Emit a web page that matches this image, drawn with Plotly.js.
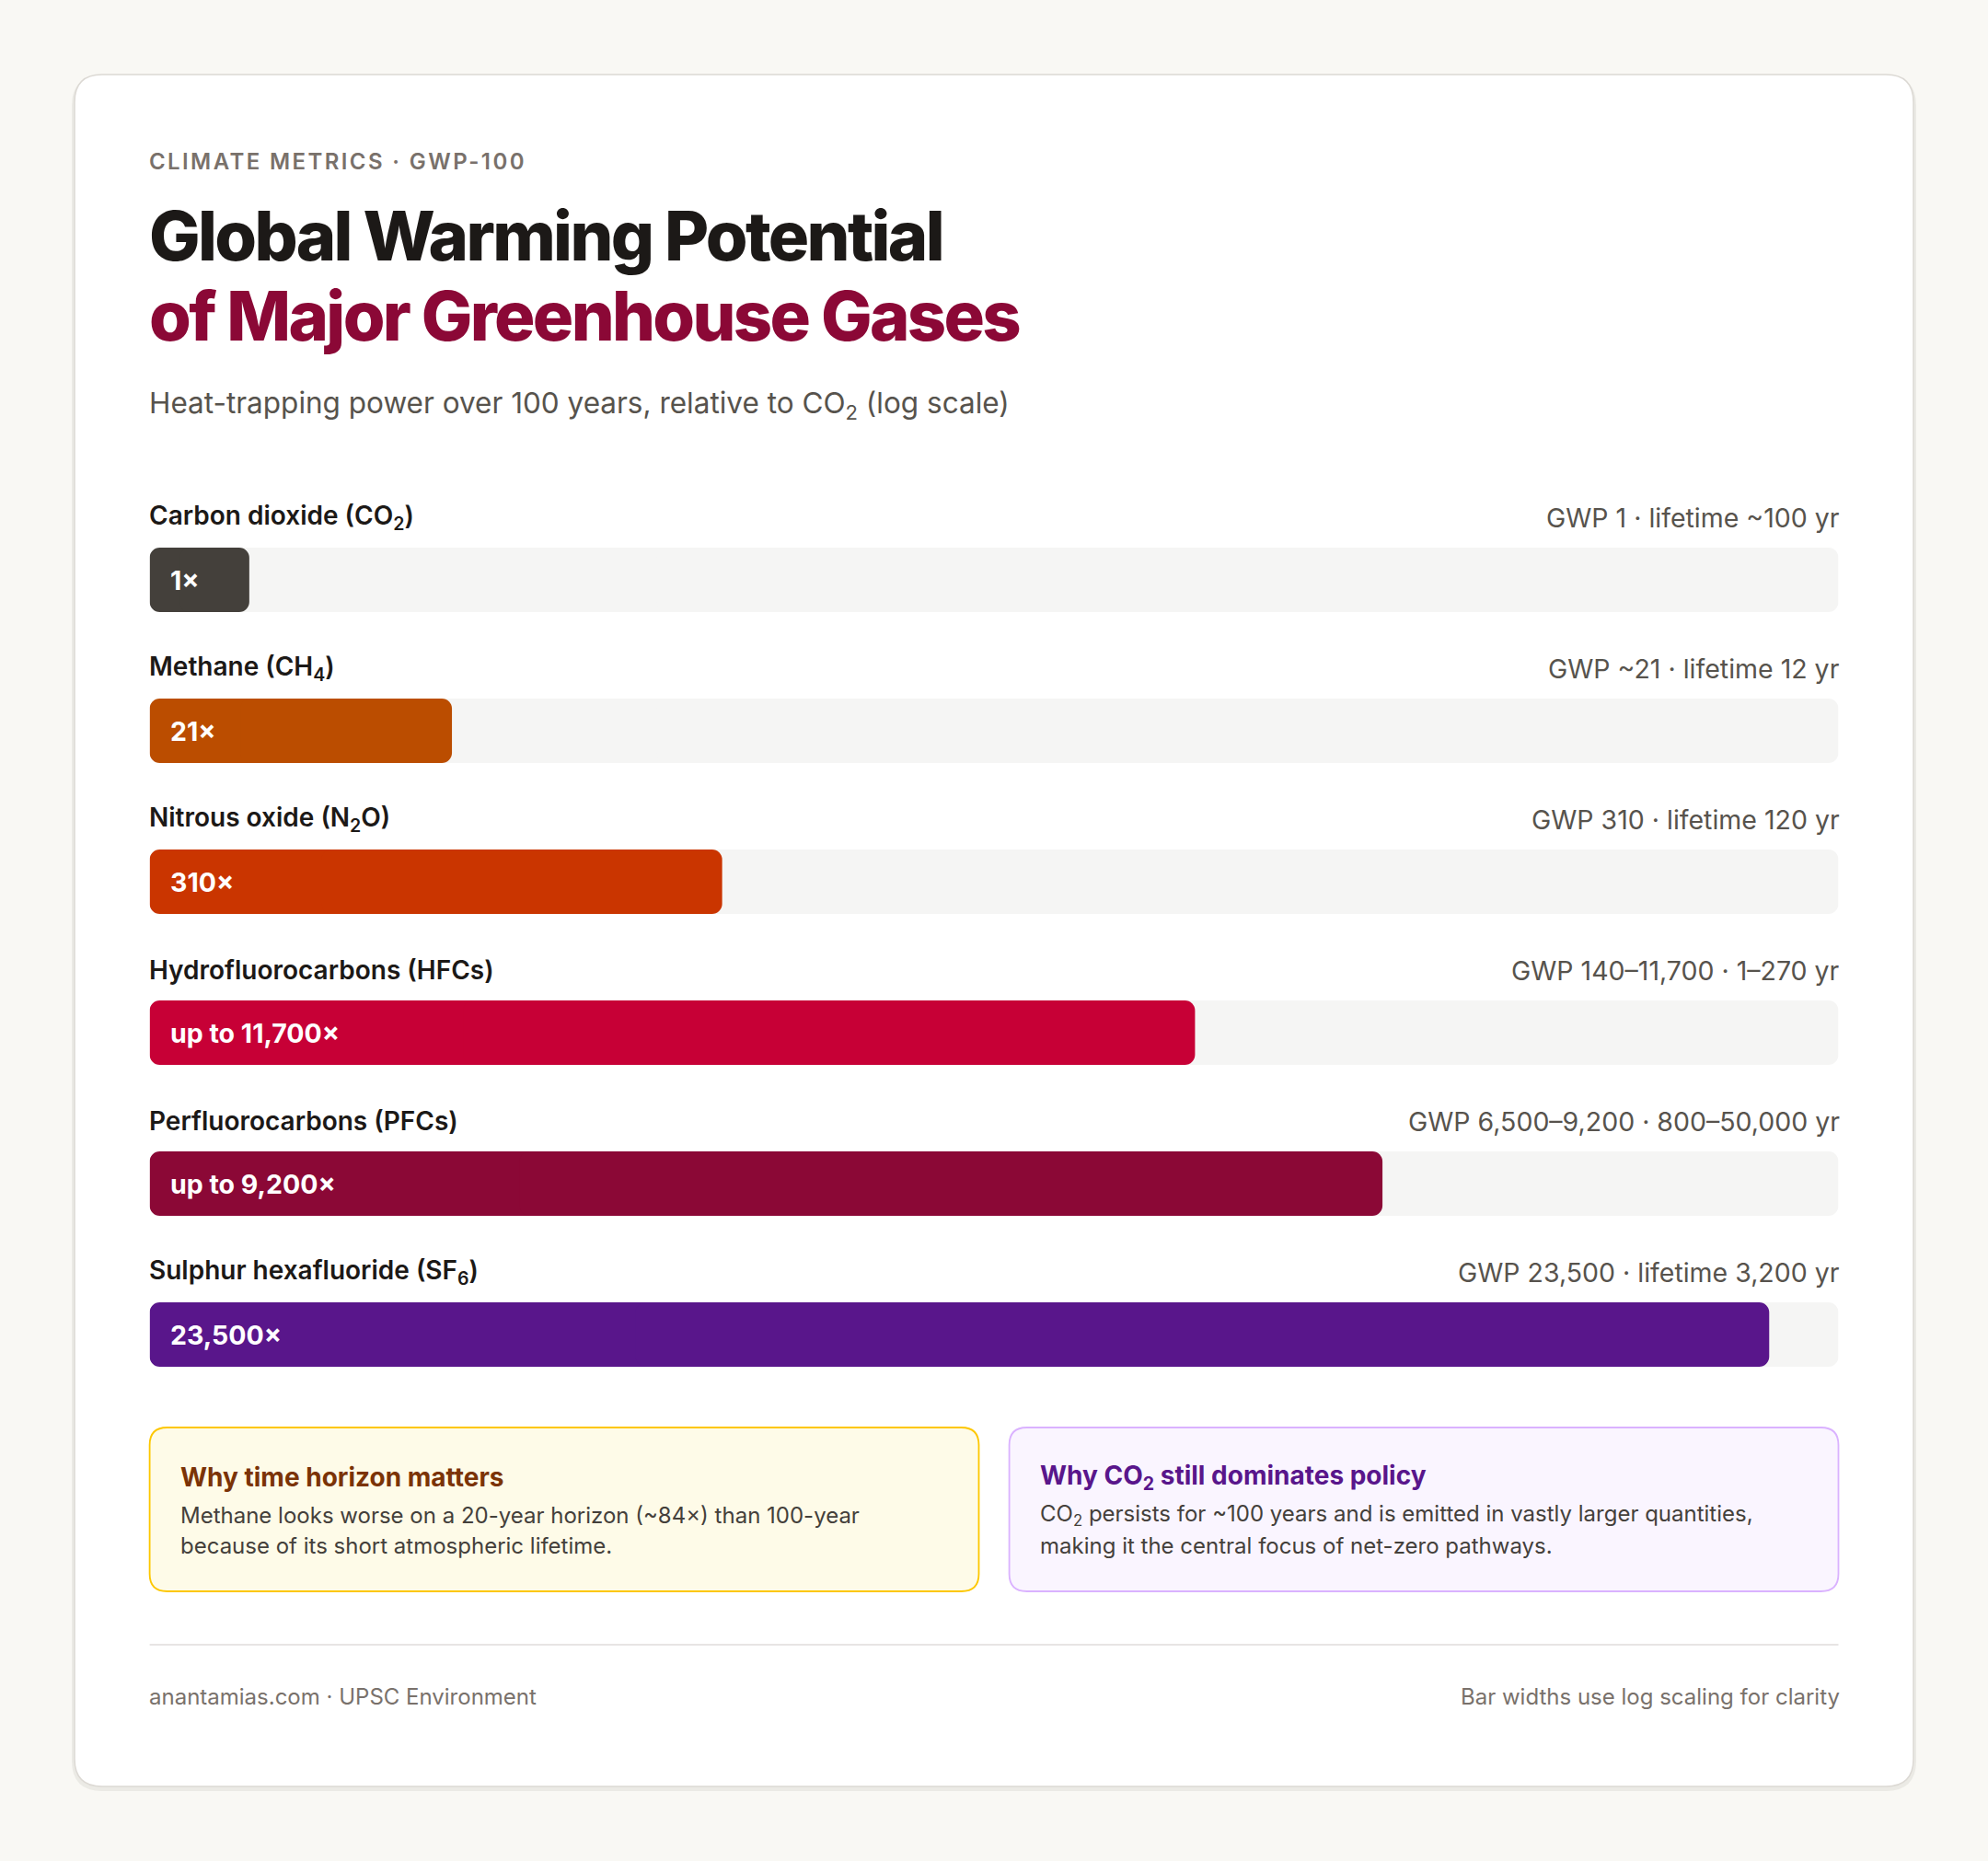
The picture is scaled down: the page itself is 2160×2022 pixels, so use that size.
<!DOCTYPE html>
<html>
<head>
<meta charset="utf-8">
<script src="https://cdn.plot.ly/plotly-3.0.1.min.js"></script>
<style>
  html, body { margin: 0; padding: 0; background: #f9f8f4; }
  #chart { width: 2160px; height: 2022px; }
</style>
</head>
<body>
<div id="chart"></div>
<script>
// chart data
const gasKeys = ['CO2', 'CH4', 'N2O', 'HFCs', 'PFCs', 'SF6'];
const gasNames = [
    'Carbon dioxide (CO<sub>2</sub>)',
    'Methane (CH<sub>4</sub>)',
    'Nitrous oxide (N<sub>2</sub>O)',
    'Hydrofluorocarbons (HFCs)',
    'Perfluorocarbons (PFCs)',
    'Sulphur hexafluoride (SF<sub>6</sub>)'
];
// bar length as % of the track (log-scaled widths as drawn)
const barPct = [5.9, 17.9, 33.9, 61.9, 73.0, 95.9];
const barText = ['1×', '21×', '310×', 'up to 11,700×', 'up to 9,200×', '23,500×'];
const gwpNotes = [
    'GWP 1 · lifetime ~100 yr',
    'GWP ~21 · lifetime 12 yr',
    'GWP 310 · lifetime 120 yr',
    'GWP 140–11,700 · 1–270 yr',
    'GWP 6,500–9,200 · 800–50,000 yr',
    'GWP 23,500 · lifetime 3,200 yr'
];
const barColors = ['#44403b', '#bb4d00', '#ca3500', '#c70036', '#8b0836', '#59168b'];
const trackMax = 100;

const noteTitles = ['Why time horizon matters', 'Why CO<sub>2</sub> still dominates policy'];
const noteLines = [
    ['Methane looks worse on a 20-year horizon (~84×) than 100-year', 'because of its short atmospheric lifetime.'],
    ['CO<sub>2</sub> persists for ~100 years and is emitted in vastly larger quantities,', 'making it the central focus of net-zero pathways.']
];

// page geometry (px)
const W = 2160, H = 2022;
const FONT = 'Inter, "Noto Sans", sans-serif';
const left = 162.6, right = 1997.5;

const px = x => x / W;
const py = y => 1 - y / H;

function roundRect(x0, y0, x1, y1, r) {
    return 'M' + px(x0 + r) + ',' + py(y0) +
        ' L' + px(x1 - r) + ',' + py(y0) +
        ' Q' + px(x1) + ',' + py(y0) + ' ' + px(x1) + ',' + py(y0 + r) +
        ' L' + px(x1) + ',' + py(y1 - r) +
        ' Q' + px(x1) + ',' + py(y1) + ' ' + px(x1 - r) + ',' + py(y1) +
        ' L' + px(x0 + r) + ',' + py(y1) +
        ' Q' + px(x0) + ',' + py(y1) + ' ' + px(x0) + ',' + py(y1 - r) +
        ' L' + px(x0) + ',' + py(y0 + r) +
        ' Q' + px(x0) + ',' + py(y0) + ' ' + px(x0 + r) + ',' + py(y0) + ' Z';
}

function paperShape(path, fill, line, width) {
    return {
        type: 'path', xref: 'paper', yref: 'paper', layer: 'below',
        path: path, fillcolor: fill,
        line: { color: line || 'rgba(0,0,0,0)', width: width || 0 }
    };
}

function text(t, x, y, size, color, weight, anchor) {
    const a = anchor || 'left';
    return {
        xref: 'paper', yref: 'paper', x: px(x), y: py(y),
        xanchor: a, yanchor: 'middle', align: a,
        xshift: a === 'left' ? -3 : 3,
        text: t, showarrow: false,
        font: { family: FONT, size: size, color: color, weight: weight || 400 }
    };
}

// plotly only rounds the tip of a bar, so each bar is drawn as two
// overlapping pieces (0..70% and 30%..100%) rounded at the outer ends
function halfBars(values, colors) {
    const common = {
        type: 'bar', orientation: 'h', y: gasKeys, width: 0.427,
        hoverinfo: 'skip'
    };
    return [
        Object.assign({}, common, {
            base: values.map(v => v * 0.7), x: values.map(v => -v * 0.7),
            marker: { color: colors, cornerradius: 11 }
        }),
        Object.assign({}, common, {
            base: values.map(v => v * 0.3), x: values.map(v => v * 0.7),
            marker: { color: colors, cornerradius: 11 }
        })
    ];
}

const traces = [].concat(
    halfBars(gasKeys.map(() => trackMax), '#f5f5f4'),
    halfBars(barPct, barColors)
);

const annotations = [
    text('CLIMATE METRICS · GWP-100', left, 176, 24, '#79716b', 600),
    text('Global Warming Potential', left, 256, 74, '#1c1917', 800),
    text('of Major Greenhouse Gases', left, 343, 74, '#8b0836', 800),
    text('Heat-trapping power over 100 years, relative to CO<sub>2</sub> (log scale)', left, 439, 31.5, '#57534d', 400)
];

gasKeys.forEach((k, i) => {
    annotations.push({
        xref: 'x', yref: 'y', x: 0, y: k, yshift: 68, xshift: -3,
        xanchor: 'left', yanchor: 'middle', align: 'left', showarrow: false,
        text: gasNames[i],
        font: { family: FONT, size: 28, color: '#1c1917', weight: 600 }
    });
    annotations.push({
        xref: 'x', yref: 'y', x: trackMax, y: k, yshift: 68, xshift: 3,
        xanchor: 'right', yanchor: 'middle', align: 'right', showarrow: false,
        text: gwpNotes[i],
        font: { family: FONT, size: 28.5, color: '#57534d', weight: 400 }
    });
    annotations.push({
        xref: 'x', yref: 'y', x: 0, y: k, xshift: 20,
        xanchor: 'left', yanchor: 'middle', align: 'left', showarrow: false,
        text: barText[i],
        font: { family: FONT, size: 28.5, color: '#ffffff', weight: 700 }
    });
});

// callout boxes
const boxX = [[left, 1063.5], [1096.6, right]];
const boxTitleColor = ['#7b3306', '#59168b'];
boxX.forEach((b, i) => {
    annotations.push(text(noteTitles[i], b[0] + 34.5, 1605, 28, boxTitleColor[i], 700));
    noteLines[i].forEach((ln, j) => {
        annotations.push(text(ln, b[0] + 34.5, 1646 + j * 33, 24, '#44403b', 400));
    });
});

annotations.push(text('anantamias.com · UPSC Environment', left, 1843, 24, '#79716b', 400));
annotations.push(text('Bar widths use log scaling for clarity', right, 1843, 24, '#79716b', 400, 'right'));

const shapes = [
    // card shadow + card
    paperShape(roundRect(78, 82, 2082, 1946, 33), 'rgba(60,50,40,0.07)'),
    paperShape(roundRect(81, 81, 2079, 1941, 30), '#ffffff', '#dcd9d4', 1.5),
    // callouts
    paperShape(roundRect(boxX[0][0], 1551, boxX[0][1], 1729, 19), '#fefbe8', '#fdc700', 1.8),
    paperShape(roundRect(boxX[1][0], 1551, boxX[1][1], 1729, 19), '#faf5ff', '#dab2ff', 1.8),
    // footer rule
    {
        type: 'line', xref: 'paper', yref: 'paper', layer: 'below',
        x0: px(left), x1: px(right), y0: py(1787), y1: py(1787),
        line: { color: '#e7e5e4', width: 2 }
    }
];

const layout = {
    width: W, height: H,
    margin: { l: 0, r: 0, t: 0, b: 0 },
    paper_bgcolor: '#f9f8f4',
    plot_bgcolor: 'rgba(0,0,0,0)',
    showlegend: false,
    barmode: 'overlay',
    xaxis: {
        domain: [px(left), px(right)], range: [0, trackMax],
        visible: false, fixedrange: true
    },
    yaxis: {
        domain: [py(1532), py(548)], type: 'category',
        range: [5.5, -0.5], visible: false, fixedrange: true
    },
    shapes: shapes,
    annotations: annotations
};

Plotly.newPlot('chart', traces, layout, { staticPlot: true, displayModeBar: false }).then(() => {
    // letter spacing that Plotly can't set itself
    const anns = document.querySelectorAll('#chart g.annotation');
    if (anns[0]) anns[0].querySelector('text').style.letterSpacing = '0.1em';
    [1, 2].forEach(i => {
        if (anns[i]) anns[i].querySelector('text').style.letterSpacing = '-0.036em';
    });
});
</script>
</body>
</html>
